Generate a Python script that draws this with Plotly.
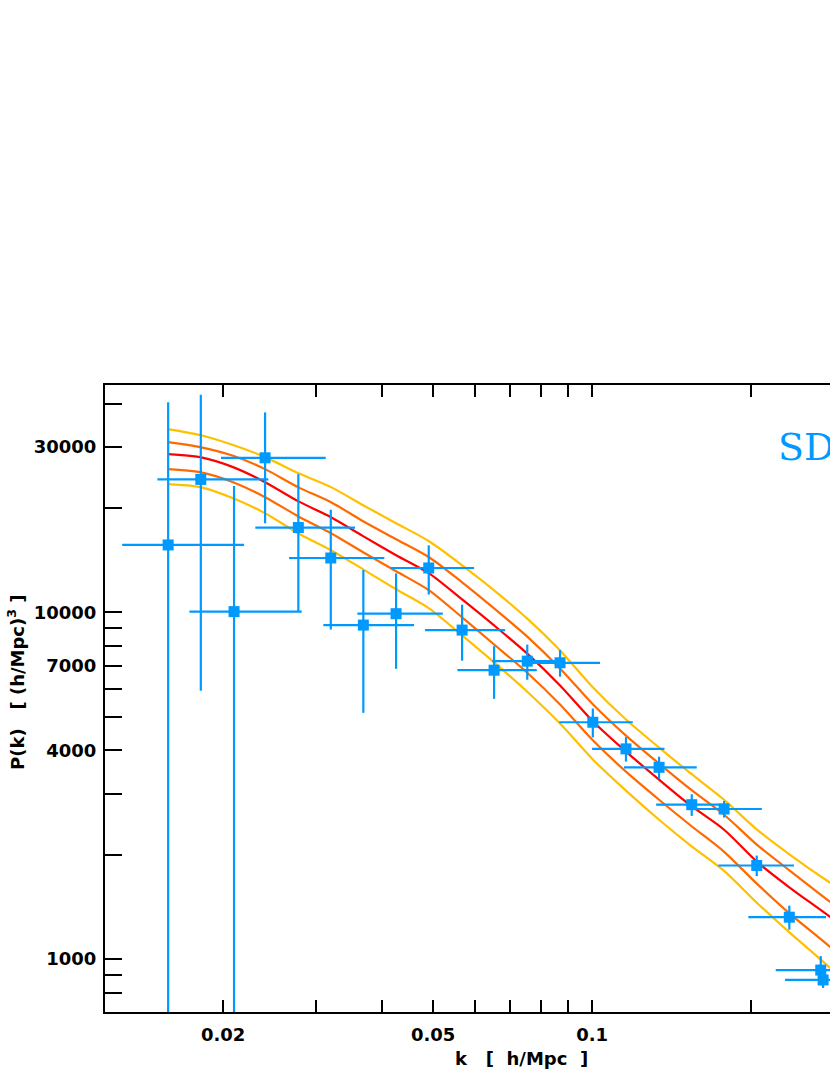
import plotly.graph_objects as go

# ---- model curves: P(k) best fit with 1-sigma / 2-sigma envelopes ----
k_model = [0.01573, 0.01809, 0.02089, 0.02402, 0.02773, 0.03202, 0.03683, 0.04253,
           0.04911, 0.05672, 0.06521, 0.07527, 0.08694, 0.1004, 0.1159, 0.1339,
           0.1539, 0.1778, 0.2053, 0.2370, 0.2823, 0.3666, 0.4500]
P_yellow_hi = [33800, 32480, 30390, 28050, 25220, 22980, 20380, 18080, 16040, 13670,
               11580, 9610, 7767, 6070, 4907, 4072, 3425, 2880, 2360, 1998, 1659, 1288, 1062]
P_orange_hi = [30990, 29980, 28300, 25900, 22980, 20790, 18320, 16260, 14420, 12210,
               10270, 8524, 6889, 5422, 4410, 3661, 3079, 2607, 2135, 1796, 1461, 1098, 881]
P_red = [28610, 28050, 26250, 23750, 20940, 18820, 16590, 14620, 12960, 10900,
         9170, 7613, 6152, 4842, 3966, 3291, 2768, 2360, 1907, 1604, 1322, 974, 776]
P_orange_lo = [25900, 25390, 23750, 21500, 18940, 16920, 14910, 13140, 11580, 9674,
               8079, 6708, 5422, 4267, 3471, 2880, 2423, 2038, 1647, 1349, 1083, 761, 583]
P_yellow_lo = [23440, 22980, 21350, 19320, 16920, 15110, 13310, 11660, 10270, 8580,
               7170, 5912, 4777, 3759, 3059, 2521, 2121, 1796, 1451, 1189, 942, 645, 478]

# ---- SDSS band powers ----
k_data = [0.01574, 0.01815, 0.02098, 0.02402, 0.02777, 0.03199, 0.03687, 0.04253,
          0.04904, 0.05672, 0.06521, 0.07536, 0.08694, 0.1003, 0.1159, 0.1339,
          0.1544, 0.1778, 0.2050, 0.2363, 0.2710, 0.2738]
k_lo = [0.01288, 0.01502, 0.01727, 0.01982, 0.02302, 0.02667, 0.03097, 0.03592,
        0.04155, 0.04826, 0.05557, 0.06471, 0.07494, 0.08666, 0.09998, 0.1149,
        0.1322, 0.1533, 0.1734, 0.1976, 0.2227, 0.2319]
k_hi = [0.02192, 0.02436, 0.02818, 0.03129, 0.03556, 0.04041, 0.04600, 0.05214,
        0.05976, 0.06842, 0.07855, 0.08846, 0.1035, 0.1194, 0.1371, 0.1578,
        0.1809, 0.2096, 0.2412, 0.2773, 0.3190, 0.3231]
P_data = [15650, 24190, 10050, 27920, 17570, 14350, 9190, 9913, 13430, 8890, 6810,
          7232, 7154, 4819, 4038, 3572, 2787, 2708, 1861, 1320, 929, 870]
P_err = [24710, 18250, 13120, 9840, 7480, 5430, 4060, 3040, 2175, 1635, 1180,
         840, 630, 460, 327, 260, 200, 150, 127, 105, 90, 45]

x_tickvals = [0.02, 0.03, 0.04, 0.05, 0.06, 0.07, 0.08, 0.09, 0.1, 0.2, 0.3, 0.4]
x_ticktext = ["0.02", "", "", "0.05", "", "", "", "", "0.1", "", "0.3", ""]
y_tickvals = [800, 900, 1000, 2000, 3000, 4000, 5000, 6000, 7000, 8000, 9000,
              10000, 20000, 30000, 40000]
y_ticktext = ["", "", "1000", "", "", "4000", "", "", "7000", "", "", "10000",
              "", "30000", ""]

YELLOW = "#FFC000"
ORANGE = "#FF6A00"
RED = "#FF0000"
BLUE = "#0099FF"

fig = go.Figure()
for yv, col in [(P_yellow_hi, YELLOW), (P_yellow_lo, YELLOW),
                (P_orange_hi, ORANGE), (P_orange_lo, ORANGE), (P_red, RED)]:
    fig.add_trace(go.Scatter(x=k_model, y=yv, mode="lines",
                             line=dict(color=col, width=2.2, shape="spline", smoothing=0.8),
                             showlegend=False, hoverinfo="skip"))

err_plus = [h - k for k, h in zip(k_data, k_hi)]
err_minus = [k - l for k, l in zip(k_data, k_lo)]
fig.add_trace(go.Scatter(
    x=k_data, y=P_data, mode="markers",
    marker=dict(symbol="square", size=11, color=BLUE),
    error_x=dict(type="data", symmetric=False, array=err_plus, arrayminus=err_minus,
                 color=BLUE, thickness=2.2, width=0),
    error_y=dict(type="data", array=P_err, color=BLUE, thickness=2.2, width=0),
    showlegend=False))

# plot frame spans x 105..830 (continues past the right edge), y 385..1012
W, H = 830, 1075
PX0, PX1, PY0, PY1 = 105, 830, 385, 1012
PW, PH = PX1 - PX0, PY1 - PY0
XR0 = -1.9226
XR1 = XR0 + PW / 528.0


def px(x):
    return (x - PX0) / PW


def py(y):
    return (PY1 - y) / PH


fig.update_layout(
    width=W, height=H,
    margin=dict(l=PX0, r=W - PX1, t=PY0, b=H - PY1),
    paper_bgcolor="white", plot_bgcolor="white",
    font=dict(family="DejaVu Sans", size=18, color="black"),
    xaxis=dict(type="log", range=[XR0, XR1], tickvals=x_tickvals,
               ticktext=x_ticktext, ticks="inside", ticklen=12, tickwidth=2,
               tickcolor="black", showline=True, linewidth=2, linecolor="black",
               mirror="ticks", showgrid=False, zeroline=False, ticklabelstandoff=5,
               tickfont=dict(family="DejaVu Sans", size=18, weight="bold")),
    yaxis=dict(type="log", range=[2.847, 4.656], tickvals=y_tickvals,
               ticktext=y_ticktext, ticks="inside", ticklen=17, tickwidth=2,
               tickcolor="black", showline=True, linewidth=2, linecolor="black",
               mirror=False, showgrid=False, zeroline=False, ticklabelstandoff=3,
               tickfont=dict(family="DejaVu Sans", size=18, weight="bold")),
    annotations=[
        dict(text="k\u00a0\u00a0\u00a0[\u00a0\u00a0h/Mpc\u00a0\u00a0]", xref="paper", yref="paper",
             x=px(521), y=py(1058), showarrow=False,
             xanchor="center", yanchor="middle",
             font=dict(family="DejaVu Sans", size=18, weight="bold")),
        dict(text="P(k)\u00a0\u00a0\u00a0[\u00a0(h/Mpc)<sup>3</sup>\u00a0]", xref="paper", yref="paper",
             x=px(16), y=py(683), showarrow=False, textangle=-90,
             xanchor="center", yanchor="middle",
             font=dict(family="DejaVu Sans", size=18, weight="bold")),
        dict(text="SDSS", xref="paper", yref="paper",
             x=px(776), y=py(447), showarrow=False,
             xanchor="left", yanchor="middle",
             font=dict(family="DejaVu Serif", size=38, color=BLUE)),
    ],
)

fig.write_html("out.html", config={"displayModeBar": False},
               post_script="document.body.style.margin='0';document.body.style.overflow='hidden';")
